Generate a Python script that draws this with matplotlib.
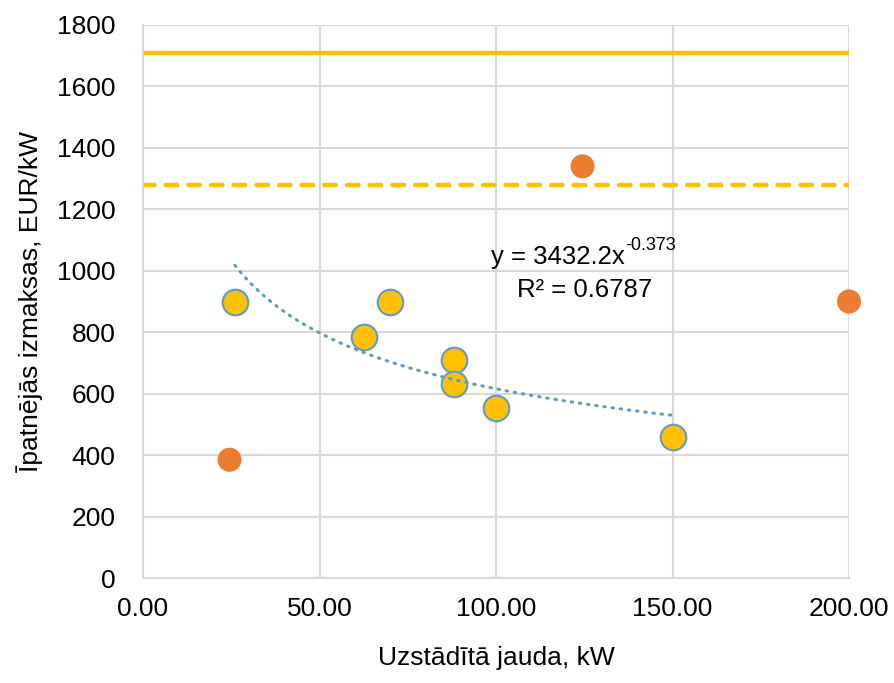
import numpy as np
import matplotlib
matplotlib.use("Agg")
import matplotlib.pyplot as plt

plt.rcParams['font.family'] = ['Liberation Sans', 'DejaVu Sans']

# yellow series (with trendline)
x_main = [26, 62.5, 70, 88, 88, 100, 150]
y_main = [900, 785, 900, 710, 630, 555, 460]
# orange series
x_other = [24.5, 124.5, 200]
y_other = [385, 1340, 900]
# reference levels
level_solid = 1710
level_dashed = 1280
# power trendline y = a * x^b
coef_a = 3432.2
coef_b = -0.373
r2 = 0.6787

GOLD = "#FFC000"
ORANGE = "#ED7D31"
BLUE = "#5B9BD5"
GRID = "#D9D9D9"

fig = plt.figure(figsize=(8.94, 6.83), dpi=100)
ax = fig.add_axes([0.16, 0.1537, 0.7897, 0.8097])

ax.axhline(level_solid, color=GOLD, lw=3.2, zorder=2)
ax.axhline(level_dashed, color=GOLD, lw=3.2, ls=(0, (2.6, 2.5)),
           dash_capstyle='round', zorder=2)

ax.scatter(x_other, y_other, s=300, color=ORANGE, edgecolors='none', zorder=3, clip_on=False)
ax.scatter(x_main, y_main, s=340, color=GOLD, edgecolors=BLUE, linewidths=1.5, zorder=3)

xt = np.linspace(min(x_main), max(x_main), 200)
ax.plot(xt, coef_a * xt ** coef_b, color=BLUE, lw=2.2, ls=(0, (0.5, 2.2)),
        dash_capstyle='round', zorder=4)

# equation label, superscript as separate small text (keeps plain hyphen)
eq = ax.text(98.6, 1045, "y = %.1fx" % coef_a, fontsize=18.5,
             ha='left', va='center', zorder=5)
ax.annotate("%.3f" % coef_b, xy=(1, 0.62), xycoords=eq, fontsize=13,
            ha='left', va='bottom', zorder=5)
ax.text(125, 937, "R² = %.4f" % r2, fontsize=18.5, ha='center', va='center', zorder=5)

ax.set_xlim(0, 200)
ax.set_ylim(0, 1800)
ax.set_xticks(np.arange(0, 201, 50))
ax.set_xticklabels(["%.2f" % v for v in np.arange(0, 201, 50)])
ax.set_yticks(np.arange(0, 1801, 200))
ax.grid(True, color=GRID, lw=1.5, zorder=0)
ax.set_axisbelow(True)
for side in ['top', 'right']:
    ax.spines[side].set_visible(False)
for side in ['left', 'bottom']:
    ax.spines[side].set_color(GRID)
    ax.spines[side].set_linewidth(1.5)
ax.tick_params(length=0, labelsize=19, colors='black')
ax.tick_params(axis='y', pad=20)
ax.tick_params(axis='x', pad=14)

ax.set_xlabel("Uzstādītā jauda, kW", fontsize=19, labelpad=18)
ax.set_ylabel("Īpatnējās izmaksas, EUR/kW", fontsize=19, labelpad=10)

fig.savefig("out.png", dpi=100)
